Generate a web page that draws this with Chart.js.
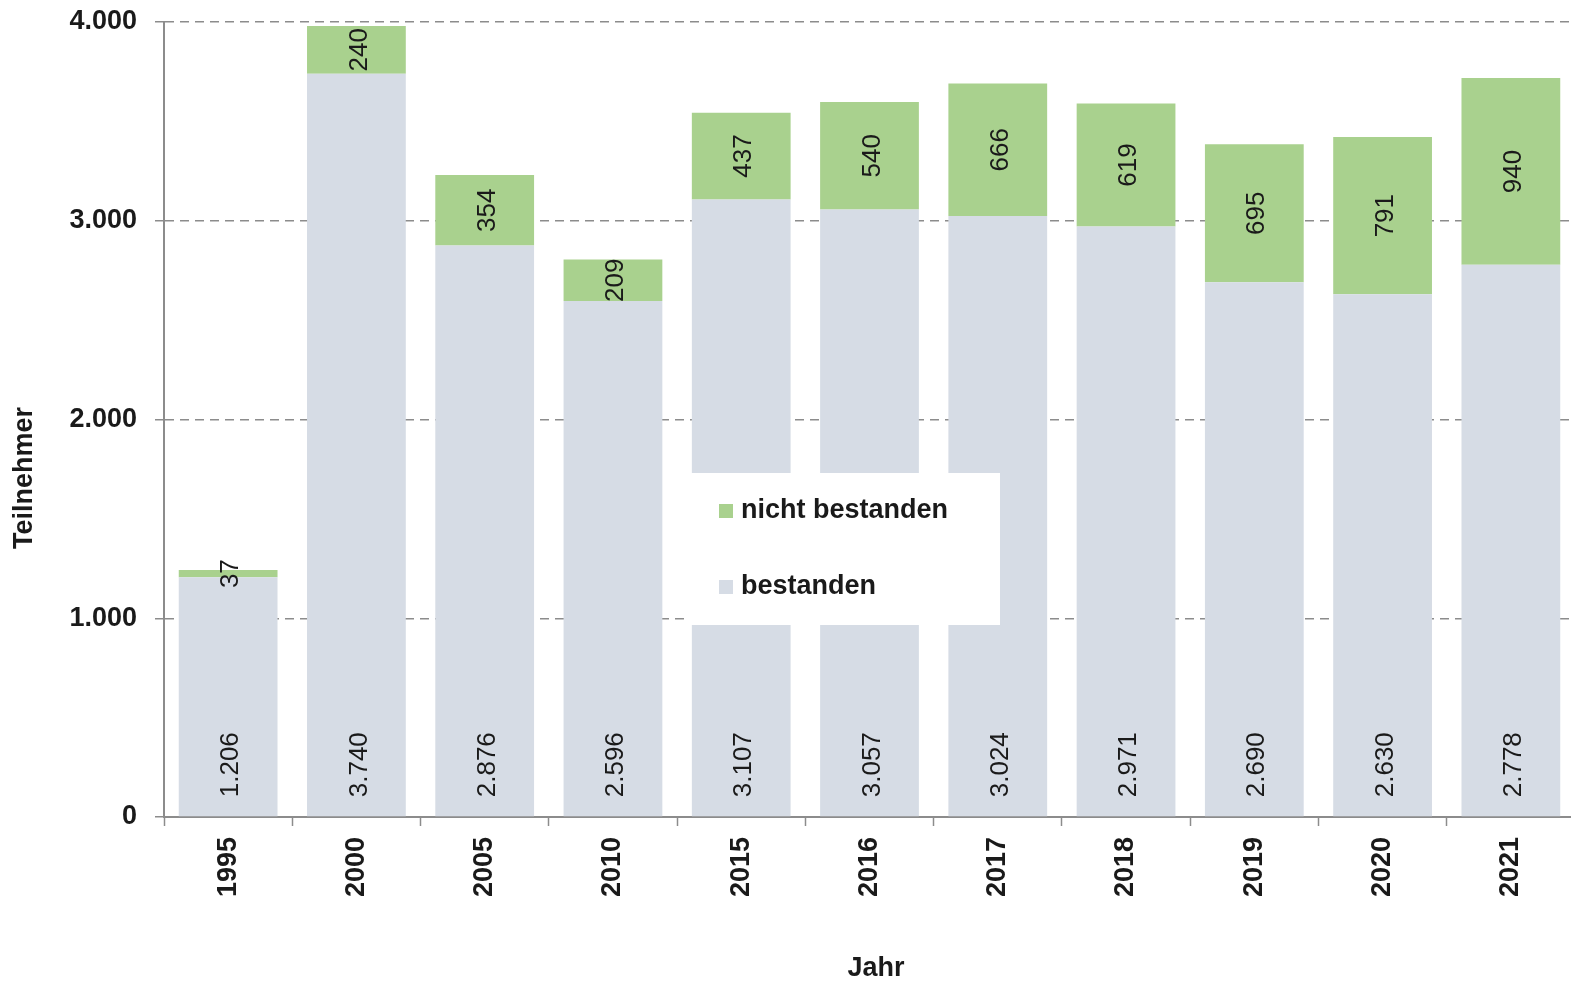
<!DOCTYPE html>
<html><head><meta charset="utf-8">
<script src="https://cdn.jsdelivr.net/npm/chart.js@4.4.1/dist/chart.umd.min.js"></script>
<style>html,body{margin:0;padding:0;background:#fff;overflow:hidden}#wrap{width:1571px;height:985px;position:relative;overflow:hidden}</style>
</head><body><div id="wrap"><canvas id="c" width="1575" height="985" style="width:1575px;height:985px"></canvas></div>
<script>
const years = ['1995','2000','2005','2010','2015','2016','2017','2018','2019','2020','2021'];
const bestanden = [1206,3740,2876,2596,3107,3057,3024,2971,2690,2630,2778];
const nichtBestanden = [37,240,354,209,437,540,666,619,695,791,940];
const yTickValues = [0,1000,2000,3000,4000];
const seriesNames = ['bestanden','nicht bestanden'];
const seriesColors = ['#d6dce5','#a9d18e'];
const yTitle = 'Teilnehmer';
const xTitle = 'Jahr';

const FONT = '"Liberation Sans", Arial, Helvetica, sans-serif';
const TXT = '#1a1a1a';
const AXIS = '#8c8c8c';
const fmt = v => String(v).replace(/\B(?=(\d{3})+(?!\d))/g, '.');

const labelPlugin = {
  id: 'barLabels',
  afterDatasetsDraw(chart) {
    const ctx = chart.ctx;
    ctx.save();
    ctx.fillStyle = TXT;
    ctx.font = '26px ' + FONT;
    ctx.textBaseline = 'middle';
    chart.data.datasets.forEach((ds, di) => {
      const meta = chart.getDatasetMeta(di);
      meta.data.forEach((el, i) => {
        const txt = fmt(ds.data[i]);
        ctx.save();
        if (di === 0) {
          ctx.translate(el.x + 3, el.base - 19);
          ctx.rotate(-Math.PI / 2);
          ctx.textAlign = 'left';
        } else {
          ctx.translate(el.x + 3, (el.y + el.base) / 2);
          ctx.rotate(-Math.PI / 2);
          ctx.textAlign = 'center';
        }
        ctx.fillText(txt, 0, 0);
        ctx.restore();
      });
    });
    ctx.restore();
  }
};

const legendPlugin = {
  id: 'insideLegend',
  afterDraw(chart) {
    const ctx = chart.ctx;
    const ca = chart.chartArea;
    const bx = ca.left + 521, by = ca.top + 451, bw = 315, bh = 152;
    ctx.save();
    ctx.fillStyle = '#ffffff';
    ctx.fillRect(bx, by, bw, bh);
    ctx.font = 'bold 27px ' + FONT;
    ctx.textBaseline = 'middle';
    ctx.textAlign = 'left';
    const order = [1, 0];
    order.forEach((di, k) => {
      const ds = chart.data.datasets[di];
      const cy = by + 38 + k * 76;
      ctx.fillStyle = ds.backgroundColor;
      ctx.fillRect(bx + 34, cy - 7, 14, 14);
      ctx.fillStyle = TXT;
      ctx.fillText(ds.label, bx + 56, cy);
    });
    ctx.restore();
  }
};

const titlePlugin = {
  id: 'axisTitles',
  afterDraw(chart) {
    const ctx = chart.ctx;
    ctx.save();
    ctx.fillStyle = TXT;
    ctx.font = 'bold 27px ' + FONT;
    ctx.textAlign = 'center';
    ctx.textBaseline = 'middle';
    ctx.fillText(xTitle, 876, 969);
    ctx.translate(25, 478);
    ctx.rotate(-Math.PI / 2);
    ctx.fillText(yTitle, 0, 0);
    ctx.restore();
  }
};

new Chart(document.getElementById('c'), {
  type: 'bar',
  data: {
    labels: years,
    datasets: [
      { label: seriesNames[0], data: bestanden, backgroundColor: seriesColors[0], borderWidth: 0, barPercentage: 0.77, categoryPercentage: 1 },
      { label: seriesNames[1], data: nichtBestanden, backgroundColor: seriesColors[1], borderWidth: 0, barPercentage: 0.77, categoryPercentage: 1 }
    ]
  },
  options: {
    responsive: false,
    maintainAspectRatio: false,
    devicePixelRatio: 1,
    animation: false,
    layout: { padding: { top: 22, left: 0, right: 0, bottom: 0 } },
    plugins: { legend: { display: false }, tooltip: { enabled: false } },
    scales: {
      x: {
        stacked: true,
        offset: true,
        grid: { display: true, drawOnChartArea: false, drawTicks: true, tickLength: 9, tickColor: AXIS, tickWidth: 1.5, offset: true },
        border: { display: true, color: AXIS, width: 2 },
        ticks: { minRotation: 90, maxRotation: 90, autoSkip: false, padding: 11, color: TXT, font: { family: FONT, size: 27, weight: 'bold' } },
        afterFit(s) { s.height = 168; s.paddingLeft = 0; s.paddingRight = 0; }
      },
      y: {
        stacked: true,
        min: 0, max: 4000,
        afterBuildTicks(s) { s.ticks = yTickValues.map(v => ({ value: v })); },
        grid: { color: AXIS, lineWidth: 1.5, tickLength: 9, tickColor: AXIS, tickWidth: 1.5, tickBorderDash: [] },
        border: { display: true, color: AXIS, width: 2, dash: [9, 6] },
        ticks: { padding: 18, color: TXT, font: { family: FONT, size: 27, weight: 'bold' }, callback: v => fmt(v) },
        afterFit(s) { s.width = 164; s.paddingTop = 0; s.paddingBottom = 0; }
      }
    }
  },
  plugins: [labelPlugin, legendPlugin, titlePlugin]
});
</script></body></html>
